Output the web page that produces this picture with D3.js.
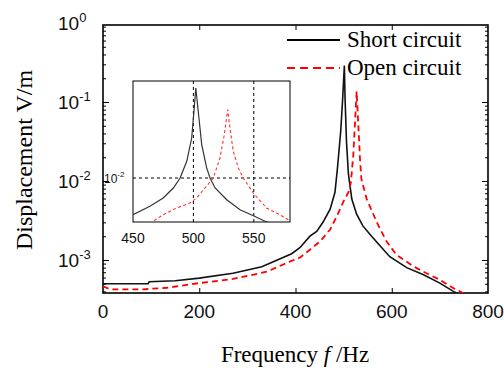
<!DOCTYPE html>
<html>
<head>
<meta charset="utf-8">
<script src="https://cdn.jsdelivr.net/npm/d3@7/dist/d3.min.js"></script>
<style>
  body { margin: 0; background: #fff; }
  svg { display: block; }
</style>
</head>
<body>
<svg id="chart"></svg>
<script>
// Datos
const shortFreq = [0, 94, 96, 150, 200, 270, 330, 392, 409, 430, 444, 457, 472, 482, 487, 494, 498, 501.5, 503, 506, 510, 517, 527, 540, 555, 576, 596, 631, 666, 700, 728, 760];
const shortDisp = [5.0e-4, 5.0e-4, 5.3e-4, 5.45e-4, 5.9e-4, 6.8e-4, 8.2e-4, 1.2e-3, 1.43e-3, 2.0e-3, 2.3e-3, 3.0e-3, 4.4e-3, 7.2e-3, 1.42e-2, 4.3e-2, 0.11, 0.29, 0.11, 0.031, 0.0122, 5.9e-3, 3.8e-3, 2.7e-3, 2.1e-3, 1.5e-3, 1.1e-3, 8.0e-4, 6.5e-4, 5.1e-4, 4.0e-4, 3.2e-4];

const openFreq = [0, 15, 83, 133, 200, 270, 340, 389, 409, 430, 451, 472, 486, 499, 510, 515, 520, 524, 527, 530, 534, 537, 548, 569, 589, 610, 645, 666, 700, 728, 749, 770];
const openDisp = [4.65e-4, 4.25e-4, 4.25e-4, 4.45e-4, 5.1e-4, 5.75e-4, 7.1e-4, 9.6e-4, 1.07e-3, 1.35e-3, 1.72e-3, 2.43e-3, 3.6e-3, 5.4e-3, 7.2e-3, 9.5e-3, 2.1e-2, 0.06, 0.136, 0.06, 0.019, 1.05e-2, 5.9e-3, 3.0e-3, 1.72e-3, 1.16e-3, 8.3e-4, 7.1e-4, 5.6e-4, 4.4e-4, 3.8e-4, 3.2e-4];

// Recuadro ampliado (450-580 Hz)
const insetShortFreq = [450, 464, 475, 483.4, 489, 494.5, 498.6, 500.5, 502, 504, 506.9, 511, 513.8, 518, 527.6, 538.6, 549.7, 559.3, 570];
const insetShortDisp = [2.53e-3, 3.47e-3, 4.73e-3, 6.88e-3, 1.0e-2, 1.87e-2, 4.47e-2, 0.123, 0.29, 0.123, 0.0348, 0.0146, 0.01, 6.88e-3, 4.44e-3, 3.05e-3, 2.44e-3, 1.98e-3, 1.7e-3];
const insetOpenFreq = [460, 465.5, 475, 486, 497, 502.7, 509.6, 516.5, 522, 525.6, 528.4, 530.3, 533, 537.2, 541.3, 549.6, 560.6, 571.6, 578.6, 580];
const insetOpenDisp = [1.6e-3, 1.93e-3, 2.53e-3, 3.25e-3, 3.92e-3, 4.73e-3, 6.88e-3, 1.0e-2, 2.11e-2, 5.06e-2, 0.129, 0.065, 0.0272, 0.0146, 0.01, 5.7e-3, 3.25e-3, 2.53e-3, 2.1e-3, 2.05e-3];

const xTicks = [0, 200, 400, 600, 800];
const yDecades = [0, -1, -2, -3];
const insetXTicks = [450, 500, 550];
const insetGridX = [500, 550];
const insetGridY = [1e-2];

const seriesNames = ["Short circuit", "Open circuit"];

// Tamaño
const width = 504;
const height = 376;
const plot = { left: 103, right: 488, top: 25, bottom: 293 };
const box = { left: 133, right: 290, top: 81, bottom: 222 };

const svg = d3.select("#chart")
  .attr("width", width)
  .attr("height", height);

// Escalas
const xScale = d3.scaleLinear().domain([0, 800]).range([plot.left, plot.right]);
const yScale = d3.scaleLog().domain([Math.pow(10, -3.418), Math.pow(10, -0.025)]).range([plot.bottom, plot.top]);

const xIn = d3.scaleLinear().domain([450, 580]).range([box.left, box.right]);
const yIn = d3.scaleLog().domain([Math.pow(10, -2.715), Math.pow(10, -0.423)]).range([box.bottom, box.top]);

svg.append("clipPath").attr("id", "clipMain")
  .append("rect")
  .attr("x", plot.left).attr("y", plot.top)
  .attr("width", plot.right - plot.left).attr("height", plot.bottom - plot.top);

svg.append("clipPath").attr("id", "clipInset")
  .append("rect")
  .attr("x", box.left).attr("y", box.top)
  .attr("width", box.right - box.left).attr("height", box.bottom - box.top);

// Ticks del eje y (logarítmico)
const yDomain = yScale.domain();
const majorY = yDecades.map(e => Math.pow(10, e)).filter(v => v >= yDomain[0] && v <= yDomain[1]);
const minorY = [];
[-4, -3, -2, -1].forEach(e => {
  for (let k = 2; k <= 9; k++) {
    const v = k * Math.pow(10, e);
    if (v >= yDomain[0] && v <= yDomain[1]) minorY.push(v);
  }
});

const tickAxis = (axis, vals, size) => axis.tickValues(vals).tickSize(size).tickFormat("");

svg.append("g").attr("transform", `translate(${plot.left},0)`)
  .call(tickAxis(d3.axisLeft(yScale), minorY, -3));
svg.append("g").attr("transform", `translate(${plot.left},0)`)
  .call(tickAxis(d3.axisLeft(yScale), majorY, -6));
svg.append("g").attr("transform", `translate(${plot.right},0)`)
  .call(tickAxis(d3.axisRight(yScale), minorY, -3));
svg.append("g").attr("transform", `translate(${plot.right},0)`)
  .call(tickAxis(d3.axisRight(yScale), majorY, -6));

const innerX = xTicks.slice(1, -1);
svg.append("g").attr("transform", `translate(0,${plot.bottom})`)
  .call(tickAxis(d3.axisBottom(xScale), innerX, -5));
svg.append("g").attr("transform", `translate(0,${plot.top})`)
  .call(tickAxis(d3.axisTop(xScale), innerX, -5));

svg.selectAll(".domain").remove();
svg.selectAll(".tick line").attr("stroke", "#000").attr("stroke-width", 1);

// Marco principal
svg.append("rect")
  .attr("x", plot.left).attr("y", plot.top)
  .attr("width", plot.right - plot.left).attr("height", plot.bottom - plot.top)
  .attr("fill", "none").attr("stroke", "#000").attr("stroke-width", 1.6);

// Etiquetas de los ejes
svg.append("g").selectAll("text")
  .data(xTicks)
  .join("text")
  .attr("x", d => xScale(d))
  .attr("y", 318)
  .attr("text-anchor", "middle")
  .attr("font-family", "Liberation Sans, Arial, sans-serif")
  .attr("font-size", 19)
  .attr("fill", "#111")
  .text(d => d);

const yLab = svg.append("g").selectAll("text")
  .data(yDecades)
  .join("text")
  .attr("x", 58)
  .attr("y", d => yScale(Math.pow(10, d)) + 7)
  .attr("font-family", "Liberation Sans, Arial, sans-serif")
  .attr("font-size", 19)
  .attr("fill", "#111");
yLab.append("tspan").text("10");
yLab.append("tspan").attr("dy", -8).attr("font-size", 13).text(d => d === 0 ? "0" : d);

svg.append("text")
  .attr("x", 295)
  .attr("y", 362)
  .attr("text-anchor", "middle")
  .attr("font-family", "Liberation Serif, Times New Roman, serif")
  .attr("font-size", 23)
  .html('Frequency <tspan font-style="italic">f</tspan> /Hz');

svg.append("text")
  .attr("transform", "translate(32,160) rotate(-90)")
  .attr("text-anchor", "middle")
  .attr("font-family", "Liberation Serif, Times New Roman, serif")
  .attr("font-size", 24)
  .text("Displacement V/m");

// Curvas principales
const line = d3.line().x(d => xScale(d[0])).y(d => yScale(d[1]));

svg.append("path")
  .datum(d3.zip(shortFreq, shortDisp))
  .attr("clip-path", "url(#clipMain)")
  .attr("d", line)
  .attr("fill", "none").attr("stroke", "#111").attr("stroke-width", 1.6);

svg.append("path")
  .datum(d3.zip(openFreq, openDisp))
  .attr("clip-path", "url(#clipMain)")
  .attr("d", line)
  .attr("fill", "none").attr("stroke", "#ff0000").attr("stroke-width", 1.8)
  .attr("stroke-dasharray", "6,4");

// Recuadro
svg.append("rect")
  .attr("x", box.left).attr("y", box.top)
  .attr("width", box.right - box.left).attr("height", box.bottom - box.top)
  .attr("fill", "#fff").attr("stroke", "#000").attr("stroke-width", 1);

svg.append("g").selectAll("line")
  .data(insetGridX)
  .join("line")
  .attr("x1", d => xIn(d)).attr("x2", d => xIn(d))
  .attr("y1", box.top).attr("y2", box.bottom)
  .attr("stroke", "#000").attr("stroke-width", 1).attr("stroke-dasharray", "3,3");

svg.append("g").selectAll("line")
  .data(insetGridY)
  .join("line")
  .attr("x1", box.left).attr("x2", box.right)
  .attr("y1", d => yIn(d)).attr("y2", d => yIn(d))
  .attr("stroke", "#000").attr("stroke-width", 1).attr("stroke-dasharray", "3,3");

const lineIn = d3.line().x(d => xIn(d[0])).y(d => yIn(d[1]));

svg.append("path")
  .datum(d3.zip(insetShortFreq, insetShortDisp))
  .attr("clip-path", "url(#clipInset)")
  .attr("d", lineIn)
  .attr("fill", "none").attr("stroke", "#333").attr("stroke-width", 1.2);

svg.append("path")
  .datum(d3.zip(insetOpenFreq, insetOpenDisp))
  .attr("clip-path", "url(#clipInset)")
  .attr("d", lineIn)
  .attr("fill", "none").attr("stroke", "#ff3030").attr("stroke-width", 1.1)
  .attr("stroke-dasharray", "3,2.5");

svg.append("g").selectAll("text")
  .data(insetXTicks)
  .join("text")
  .attr("x", d => xIn(d))
  .attr("y", 243)
  .attr("text-anchor", "middle")
  .attr("font-family", "Liberation Sans, Arial, sans-serif")
  .attr("font-size", 14)
  .attr("fill", "#111")
  .text(d => d);

const inLab = svg.append("g").selectAll("text")
  .data(insetGridY)
  .join("text")
  .attr("x", 104)
  .attr("y", d => yIn(d) + 5)
  .attr("font-family", "Liberation Sans, Arial, sans-serif")
  .attr("font-size", 12)
  .attr("fill", "#111");
inLab.append("tspan").text("10");
inLab.append("tspan").attr("dy", -6).attr("font-size", 8).text("-2");

// Leyenda
const legend = svg.append("g").selectAll("g")
  .data(seriesNames)
  .join("g")
  .attr("transform", (d, i) => `translate(0,${40 + i * 28})`);

legend.append("line")
  .attr("x1", 287).attr("x2", 340)
  .attr("stroke", (d, i) => i === 0 ? "#000" : "#ff0000")
  .attr("stroke-width", 2)
  .attr("stroke-dasharray", (d, i) => i === 0 ? null : "8,5");

legend.append("text")
  .attr("x", 347)
  .attr("y", 7)
  .attr("font-family", "Liberation Serif, Times New Roman, serif")
  .attr("font-size", 23)
  .text(d => d);
</script>
</body>
</html>
